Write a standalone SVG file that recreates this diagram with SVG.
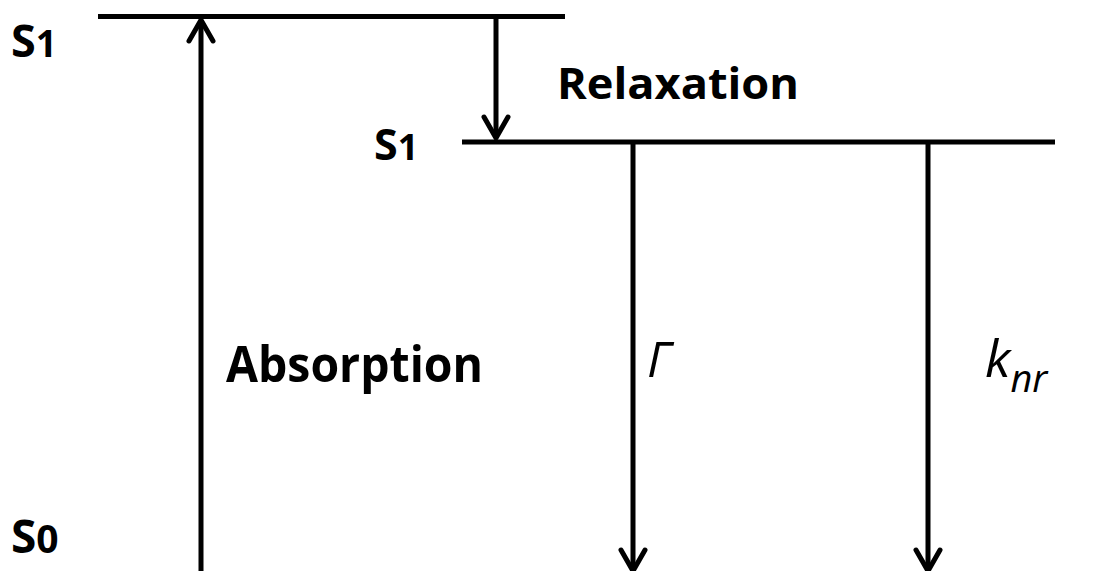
<svg xmlns="http://www.w3.org/2000/svg" width="1101" height="571" viewBox="0 0 1101 571">
<style>
.lvl{stroke:#000;stroke-width:5;fill:none}
.arr{stroke:#000;stroke-width:5;fill:none;marker-end:url(#head)}
.b{font-family:"Open Sans","Liberation Sans",sans-serif;font-weight:bold;fill:#000}
.i{font-family:"Open Sans","Liberation Sans",sans-serif;font-style:italic;fill:#000}
</style>
<defs>
<marker id="head" markerUnits="userSpaceOnUse" markerWidth="40" markerHeight="40" viewBox="-30 -20 40 40" refX="0" refY="0" orient="auto" overflow="visible">
<path d="M-21,-12 L0,0 L-21,12" fill="none" stroke="#000" stroke-width="5" stroke-linecap="round" stroke-linejoin="round"/>
</marker>
</defs>
<rect width="1101" height="571" fill="#fff"/>
<g id="level-s1-upper">
<line class="lvl" x1="98" y1="16.5" x2="565" y2="16.5"/>
<text class="b" x="11" y="57" font-size="45">S<tspan font-size="37">1</tspan></text>
</g>
<g id="level-s1-lower">
<line class="lvl" x1="462" y1="142" x2="1055" y2="142"/>
<text class="b" x="374" y="160" font-size="43">S<tspan font-size="36">1</tspan></text>
</g>
<g id="level-s0">
<text class="b" x="11" y="553" font-size="46">S<tspan font-size="39">0</tspan></text>
</g>
<g id="connectors">
<line class="arr" x1="201" y1="580" x2="201" y2="20"/>
<line class="arr" x1="496" y1="19" x2="496" y2="138"/>
<line class="arr" x1="633" y1="144" x2="633" y2="571"/>
<line class="arr" x1="928" y1="144" x2="928" y2="571"/>
</g>
<g id="label-relaxation">
<text class="b" x="557" y="99" font-size="43" textLength="242" lengthAdjust="spacingAndGlyphs">Relaxation</text>
</g>
<g id="label-absorption">
<text class="b" x="226" y="382" font-size="50" textLength="257" lengthAdjust="spacingAndGlyphs">Absorption</text>
</g>
<g id="label-gamma">
<text class="i" x="647" y="377" font-size="49">Γ</text>
</g>
<g id="label-knr">
<text class="i" x="985" y="377" font-size="52">k<tspan font-size="38" dy="15">nr</tspan></text>
</g>
</svg>
